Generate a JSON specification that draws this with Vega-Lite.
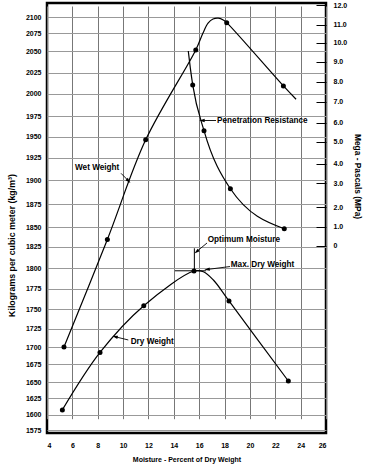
{
  "$schema": "https://vega.github.io/schema/vega-lite/v6.json",
  "width": 279,
  "height": 430,
  "autosize": {"type": "none"},
  "padding": {"left": 47, "top": 3, "right": 39, "bottom": 35},
  "background": "white",
  "config": {
    "font": "Liberation Sans",
    "view": {"stroke": "black", "strokeWidth": 2.5},
    "axis": {"labelFontWeight": "bold", "titleFontWeight": "bold", "labelColor": "black", "titleColor": "black", "labelFontSize": 7, "domain": false}
  },
  "datasets": {
    "wet_curve": [
      {"x": 5.34, "kg": 1700}, {"x": 8.76, "kg": 1834}, {"x": 11.78, "kg": 1946}, {"x": 15.73, "kg": 2051.5},
      {"x": 16.3, "kg": 2075.5}, {"x": 16.7, "kg": 2091}, {"x": 17.09, "kg": 2097.3}, {"x": 17.51, "kg": 2098.6},
      {"x": 17.9, "kg": 2095.8}, {"x": 18.17, "kg": 2091.6}, {"x": 22.64, "kg": 2009}, {"x": 23.64, "kg": 1993.6}
    ],
    "wet_pts": [
      {"x": 5.34, "kg": 1700}, {"x": 8.76, "kg": 1834}, {"x": 11.78, "kg": 1946}, {"x": 15.73, "kg": 2051.5},
      {"x": 18.17, "kg": 2091.6}, {"x": 22.64, "kg": 2009}
    ],
    "dry_curve": [
      {"x": 5.21, "kg": 1607}, {"x": 8.18, "kg": 1692}, {"x": 11.63, "kg": 1754}, {"x": 15.59, "kg": 1796.3},
      {"x": 16.33, "kg": 1795.5}, {"x": 17.12, "kg": 1785.4}, {"x": 18.35, "kg": 1759.8}, {"x": 23.03, "kg": 1651.4}
    ],
    "dry_pts": [
      {"x": 5.21, "kg": 1607}, {"x": 8.18, "kg": 1692}, {"x": 11.63, "kg": 1754}, {"x": 15.59, "kg": 1796.3},
      {"x": 18.35, "kg": 1759.8}, {"x": 23.03, "kg": 1651.4}
    ],
    "pen_curve": [
      {"x": 15.14, "mpa": 9.55}, {"x": 15.3, "mpa": 8.68}, {"x": 15.49, "mpa": 7.83}, {"x": 16.38, "mpa": 5.57},
      {"x": 18.46, "mpa": 2.76}, {"x": 22.71, "mpa": 0.88}
    ],
    "pen_pts": [
      {"x": 15.49, "mpa": 7.83}, {"x": 16.38, "mpa": 5.57}, {"x": 18.46, "mpa": 2.76}, {"x": 22.71, "mpa": 0.88}
    ],
    "labels": [
      {"text": "Wet Weight", "x": 6.21, "kg": 1913.3},
      {"text": "Penetration Resistance", "x": 17.41, "kg": 1969.3},
      {"text": "Optimum Moisture", "x": 16.67, "kg": 1833.3},
      {"text": "Max. Dry Weight", "x": 18.49, "kg": 1803.5},
      {"text": "Dry Weight", "x": 10.6, "kg": 1706.8}
    ],
    "arrows": [
      {"x": 9.84, "kg": 1907.4, "x2": 10.43, "kg2": 1899, "angle": 136},
      {"x": 17.33, "kg": 1969.5, "x2": 16.22, "kg2": 1969.5, "angle": 270},
      {"x": 16.62, "kg": 1829.5, "x2": 15.79, "kg2": 1819, "angle": 230},
      {"x": 18.43, "kg": 1801.7, "x2": 16.62, "kg2": 1798.2, "angle": 263},
      {"x": 10.41, "kg": 1709.5, "x2": 9.36, "kg2": 1713.9, "angle": 284}
    ],
    "refs": [
      {"x": 15.62, "kg": 1822.9, "x2": 15.62, "kg2": 1796.3},
      {"x": 14.09, "kg": 1796.6, "x2": 16.55, "kg2": 1796.6}
    ]
  },
  "encoding": {
    "x": {
      "field": "x", "type": "quantitative",
      "scale": {"domain": [4, 26], "nice": false, "zero": false},
      "axis": {
        "values": [4, 6, 8, 10, 12, 14, 16, 18, 20, 22, 24, 26],
        "grid": true, "gridColor": "#777", "gridWidth": 1, "ticks": false,
        "labelPadding": 8, "title": "Moisture - Percent of Dry Weight",
        "titleFontSize": 7, "titlePadding": 7
      }
    }
  },
  "layer": [
    {
      "encoding": {
        "y": {
          "field": "kg", "type": "quantitative",
          "scale": {
            "domain": [1575, 1600, 1625, 1650, 1675, 1700, 1725, 1750, 1775, 1800, 1825, 1850, 1875, 1900, 1925, 1950, 1975, 2000, 2025, 2050, 2075, 2100],
            "range": [427, 411.5, 395, 379, 361, 344, 325.5, 306, 285.5, 265, 243.5, 224, 201, 177, 154.5, 133.5, 113, 90.5, 69.5, 48, 30.3, 14.3],
            "nice": false, "zero": false
          },
          "axis": {
            "orient": "left",
            "values": [1575, 1600, 1625, 1650, 1675, 1700, 1725, 1750, 1775, 1800, 1825, 1850, 1875, 1900, 1925, 1950, 1975, 2000, 2025, 2050, 2075, 2100],
            "format": "d", "grid": true, "gridColor": "#999", "gridWidth": 1, "ticks": false,
            "labelPadding": 6,
            "title": "Kilograms per cubic meter (kg/m³)", "titleFontSize": 8.8,
            "titleX": -31, "titleY": 242
          }
        }
      },
      "layer": [
        {"data": {"name": "wet_curve"}, "mark": {"type": "line", "color": "black", "strokeWidth": 1.2, "interpolate": "catmull-rom"}},
        {"data": {"name": "dry_curve"}, "mark": {"type": "line", "color": "black", "strokeWidth": 1.2, "interpolate": "catmull-rom"}},
        {"data": {"name": "wet_pts"}, "mark": {"type": "circle", "color": "black", "size": 25, "opacity": 1}},
        {"data": {"name": "dry_pts"}, "mark": {"type": "circle", "color": "black", "size": 25, "opacity": 1}},
        {"data": {"name": "refs"}, "mark": {"type": "rule", "color": "black", "strokeWidth": 1},
         "encoding": {"x2": {"field": "x2"}, "y2": {"field": "kg2"}}},
        {"data": {"name": "arrows"}, "mark": {"type": "rule", "color": "black", "strokeWidth": 0.9},
         "encoding": {"x2": {"field": "x2"}, "y2": {"field": "kg2"}}},
        {"data": {"name": "arrows"}, "mark": {"type": "point", "shape": "M0,-1L0.6,1L-0.6,1Z", "filled": true, "color": "black", "size": 30, "opacity": 1},
         "encoding": {"x": {"field": "x2", "type": "quantitative"}, "y": {"field": "kg2", "type": "quantitative"}, "angle": {"field": "angle", "type": "quantitative", "scale": null}}},
        {"data": {"name": "labels"}, "mark": {"type": "text", "align": "left", "baseline": "middle", "fontSize": 8.2, "fontWeight": "bold", "color": "black"},
         "encoding": {"text": {"field": "text"}}}
      ]
    },
    {
      "encoding": {
        "y": {
          "field": "mpa", "type": "quantitative",
          "scale": {
            "domain": [0, 1, 2, 3, 4, 5, 6, 7, 8, 9, 10, 11, 12],
            "range": [242.5, 223.5, 204, 180, 160.5, 138.5, 119.5, 98.5, 78.5, 58.5, 39.5, 21.5, 2],
            "nice": false, "zero": false
          },
          "axis": {
            "orient": "right",
            "values": [0, 1, 2, 3, 4, 5, 6, 7, 8, 9, 10, 11, 12],
            "labelExpr": "datum.value == 0 ? '0' : format(datum.value, '.1f')",
            "grid": false, "ticks": true, "tickSize": -10, "tickColor": "black", "tickWidth": 1,
            "labelPadding": 17,
            "title": "Mega - Pascals (MPa)", "titleFontSize": 8.4,
            "titleX": 26, "titleY": 173
          }
        }
      },
      "layer": [
        {"data": {"name": "pen_curve"}, "mark": {"type": "line", "color": "black", "strokeWidth": 1.2, "interpolate": "monotone"}},
        {"data": {"name": "pen_pts"}, "mark": {"type": "circle", "color": "black", "size": 25, "opacity": 1}}
      ]
    }
  ],
  "resolve": {"scale": {"y": "independent"}}
}
